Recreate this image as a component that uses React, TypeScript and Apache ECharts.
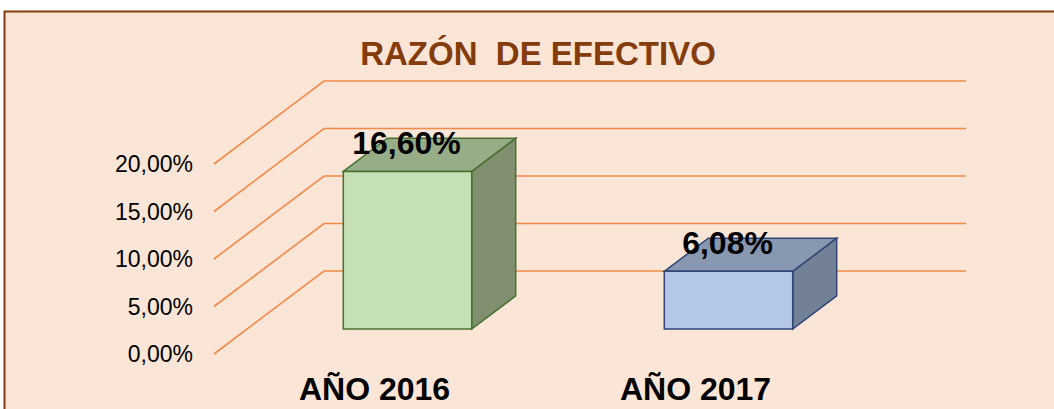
import React, { useEffect, useRef } from "react";
import * as echarts from "echarts";

const categories = ["AÑO 2016", "AÑO 2017"];
const values = [16.6, 6.08];
const valueLabels = ["16,60%", "6,08%"];
const yTicks = [0, 5, 10, 15, 20];
const titleText = "RAZÓN  DE EFECTIVO";

const frontColors = ["#C5E0B4", "#B4C7E7"];
const topColors = ["#97AD88", "#8898B0"];
const sideColors = ["#7F8F70", "#738197"];
const strokeColors = ["#4A7030", "#2F4677"];

const DX = 110;
const DY = -83;
const D0 = 0.3;
const D1 = 0.7;
const BAR_FRAC = 0.4;
const FONT = "'Liberation Sans', Arial, sans-serif";

export default function App() {
  const ref = useRef<HTMLDivElement>(null);
  useEffect(() => {
    if (!ref.current) return;
    const chart = echarts.init(ref.current, null, { renderer: "svg" });
    const option: any = {
      animation: false,
      backgroundColor: "#ffffff",
      title: {
        text: titleText,
        left: 533,
        top: 32,
        textAlign: "center",
        textStyle: { color: "#843C0C", fontSize: 33, fontWeight: "bold", fontFamily: FONT },
      },
      graphic: [
        {
          type: "rect",
          z: -10,
          silent: true,
          shape: { x: 4.5, y: 11.5, width: 1100, height: 500 },
          style: { fill: "#FBE5D6", stroke: "#843C0C", lineWidth: 2 },
        },
      ],
      grid: { left: 214, right: 198, top: 164, bottom: 55 },
      xAxis: {
        type: "category",
        data: categories,
        boundaryGap: true,
        axisLine: { show: false },
        axisTick: { show: false },
        splitLine: { show: false },
        axisLabel: {
          margin: 19,
          color: "#000",
          fontSize: 32,
          fontWeight: "bold",
          fontFamily: FONT,
        },
      },
      yAxis: {
        type: "value",
        min: 0,
        max: 20,
        interval: 5,
        axisLine: { show: false },
        axisTick: { show: false },
        splitLine: { show: false },
        axisLabel: {
          margin: 21,
          color: "#000",
          fontSize: 23,
          fontFamily: FONT,
          formatter: (v: number) => v.toFixed(2).replace(".", ",") + "%",
        },
      },
      series: [
        {
          type: "custom",
          z: 1,
          data: yTicks.map((t) => [0, t]),
          renderItem: (params: any, api: any) => {
            const cs = params.coordSys;
            const y = api.coord([0, api.value(1)])[1];
            const left = cs.x;
            const right = cs.x + cs.width;
            return {
              type: "polyline",
              shape: {
                points: [
                  [left, y],
                  [left + DX, y + DY],
                  [right + DX, y + DY],
                ],
              },
              style: { stroke: "#F08A48", lineWidth: 1.6, fill: null },
            };
          },
        },
        {
          type: "custom",
          z: 5,
          data: values.map((v, i) => [i, v]),
          renderItem: (params: any, api: any) => {
            const i = api.value(0);
            const v = api.value(1);
            const base = api.coord([i, 0]);
            const top = api.coord([i, v]);
            const bw = api.size([1, 0])[0] * BAR_FRAC;
            const x0 = base[0] - bw / 2 + D0 * DX;
            const x1 = x0 + bw;
            const yT = top[1] + D0 * DY;
            const yB = base[1] + D0 * DY;
            const ox = (D1 - D0) * DX;
            const oy = (D1 - D0) * DY;
            const stroke = strokeColors[i];
            return {
              type: "group",
              children: [
                {
                  type: "polygon",
                  shape: { points: [[x1, yT], [x1 + ox, yT + oy], [x1 + ox, yB + oy], [x1, yB]] },
                  style: { fill: sideColors[i], stroke, lineWidth: 1.5 },
                },
                {
                  type: "polygon",
                  shape: { points: [[x0, yT], [x0 + ox, yT + oy], [x1 + ox, yT + oy], [x1, yT]] },
                  style: { fill: topColors[i], stroke, lineWidth: 1.5 },
                },
                {
                  type: "rect",
                  shape: { x: x0, y: yT, width: bw, height: yB - yT },
                  style: { fill: frontColors[i], stroke, lineWidth: 1.5 },
                },
                {
                  type: "text",
                  x: (x0 + x1) / 2 - 1,
                  y: yT - 28,
                  style: {
                    text: valueLabels[i],
                    align: "center",
                    verticalAlign: "middle",
                    fontSize: 32,
                    fontWeight: "bold",
                    fontFamily: FONT,
                    fill: "#000",
                  },
                },
              ],
            };
          },
        },
      ],
    };
    chart.setOption(option);
    return () => chart.dispose();
  }, []);
  return (
    <div
      ref={ref}
      style={{ position: "fixed", left: 0, top: 0, width: 1054, height: 409 }}
    />
  );
}
